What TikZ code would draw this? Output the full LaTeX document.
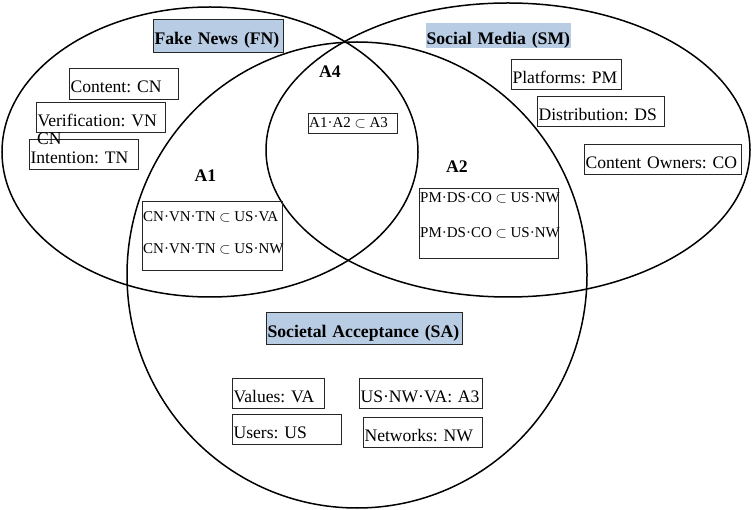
\documentclass[tikz,border=0pt]{standalone}
\usepackage{fontspec}
\setmainfont{Liberation Serif}
\usetikzlibrary{shapes.geometric}
\definecolor{hdrblue}{RGB}{184,204,228}
\newcommand\regf{\fontsize{17.6}{20}\selectfont\frenchspacing}
\newcommand\hdrf{\fontsize{17.7}{20}\selectfont\bfseries\frenchspacing}
\newcommand\smf{\fontsize{15}{18}\selectfont}
\tikzset{
  venn/.style={ellipse, draw=black, line width=1.5pt, inner sep=0pt},
  tb/.style={draw=black!85, line width=1.1pt, anchor=north west, inner xsep=1pt, inner ysep=0pt,
             text height=17pt, text depth=0pt, align=left, font=\regf},
  hb/.style={tb, fill=hdrblue, font=\hdrf},
  frm/.style={draw=black!85, line width=1.1pt, anchor=north west, inner sep=0pt},
  sline/.style={font=\smf, inner sep=0pt, anchor=base west},
  lab/.style={font=\hdrf, inner sep=0pt, anchor=base}
}
\begin{document}
\begin{tikzpicture}[x=1pt,y=-1pt]
\useasboundingbox (0,0) rectangle (752,510);
% three sets
\node[venn, minimum width=416pt, minimum height=290pt] (FN) at (210,152) {};
\node[venn, minimum width=484pt, minimum height=294pt] (SM) at (508,150) {};
\node[venn, minimum width=460pt, minimum height=466pt] (SA) at (357,275) {};
% headers
\node[hb, text width=128pt, minimum height=33pt] (fnh) at (153,19) {\mbox{Fake News (FN)}};
\node[hb, draw=none, text width=143pt, minimum height=25pt, text height=19pt] (smh) at (425,22) {\mbox{Social Media (SM)}};
\node[hb, text width=194pt, minimum height=32pt, text height=18pt] (sah) at (266,312) {\mbox{Societal Acceptance (SA)}};
% FN items
\node[tb, text width=107pt, minimum height=31pt] (cn) at (69,68) {\mbox{Content: CN}};
\node[tb, text width=127pt, minimum height=30pt] (vn) at (36,102) {\mbox{Verification: VN}};
\node[tb, text width=107pt, minimum height=30pt] (tn) at (29,139) {\mbox{Intention: TN}};
\node[font=\regf, inner sep=0pt, anchor=base west] (cnx) at (37,145) {CN};
% SM items
\node[tb, text width=108pt, minimum height=30pt] (pm) at (511,59) {\mbox{Platforms: PM}};
\node[tb, text width=125pt, minimum height=30pt] (ds) at (537,96) {\mbox{Distribution: DS}};
\node[tb, text width=155pt, minimum height=30pt] (co) at (584,144) {\mbox{Content Owners: CO}};
% SA items
\node[tb, text width=90pt, minimum height=30pt] (va) at (232,378) {\mbox{Values: VA}};
\node[tb, text width=107pt, minimum height=30pt] (us) at (232,414) {\mbox{Users: US}};
\node[tb, text width=121pt, minimum height=30pt] (a3) at (359,378) {\mbox{US·NW·VA: A3}};
\node[tb, text width=117pt, minimum height=30pt] (nw) at (363,417) {\mbox{Networks: NW}};
% region labels
\node[lab] (A1) at (205.5,182) {A1};
\node[lab] (A2) at (457,173) {A2};
\node[lab] (A4) at (330,78) {A4};
% A1 box
\node[frm, minimum width=140pt, minimum height=69pt] (a1box) at (142,201) {};
\node[sline] (a1l1) at (143,222) {CN·VN·TN $\subset$ US·VA};
\node[sline] (a1l2) at (143,254) {CN·VN·TN $\subset$ US·NW};
% A2 box
\node[frm, minimum width=139pt, minimum height=70pt] (a2box) at (419,188) {};
\node[sline] (a2l1) at (420,203) {PM·DS·CO $\subset$ US·NW};
\node[sline] (a2l2) at (420,238) {PM·DS·CO $\subset$ US·NW};
% A4 box
\node[frm, minimum width=89pt, minimum height=20pt] (a4box) at (308,113) {};
\node[sline] (a4l1) at (309,128) {A1·A2 $\subset$ A3};
\end{tikzpicture}
\end{document}
